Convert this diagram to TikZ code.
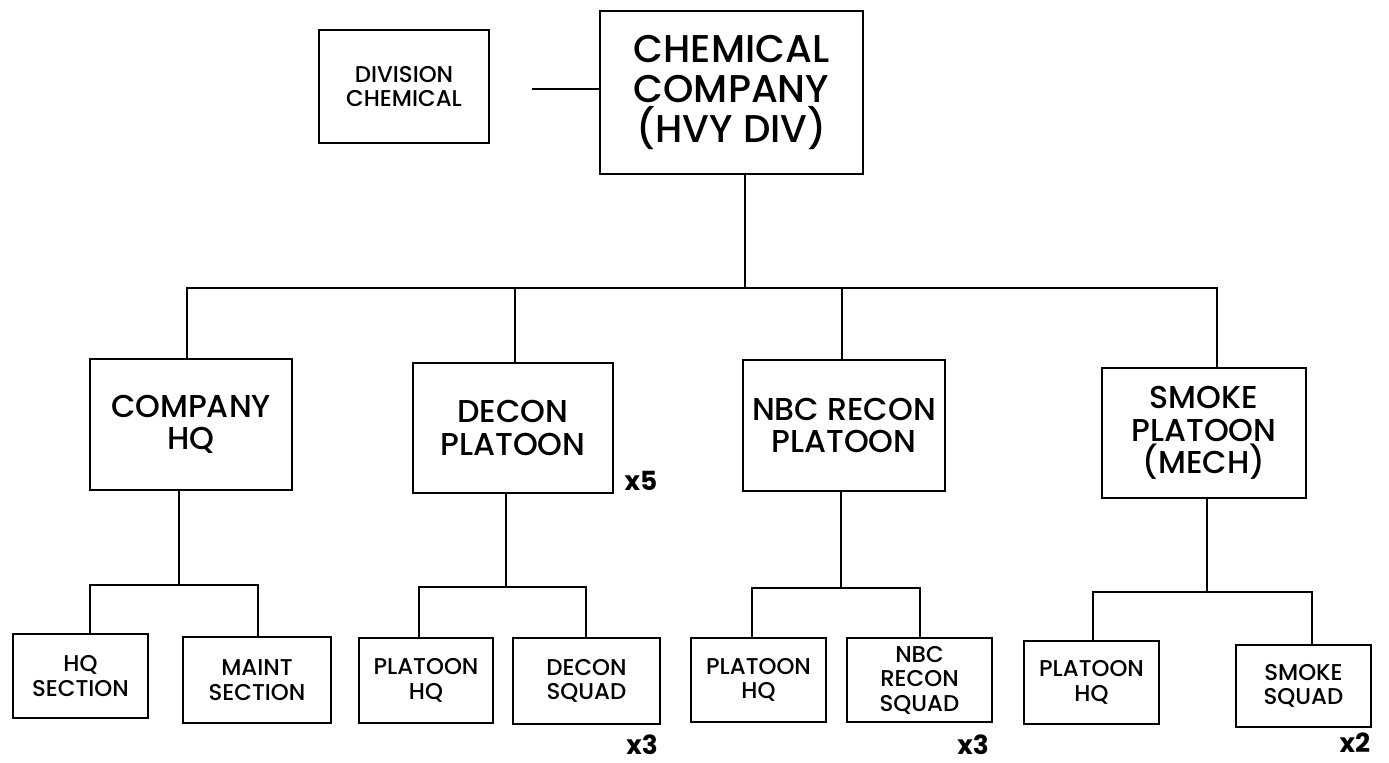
\documentclass[tikz,border=0pt]{standalone}
\usepackage{fontspec}
\setmainfont{Poppins}[UprightFont=* Medium,BoldFont=* Bold]
\begin{document}
\begin{tikzpicture}[x=0.02cm,y=-0.02cm,line width=1.1pt,box/.style={draw,align=center,inner sep=0pt},lbox/.style={box,font=\fontsize{18}{18.5}\selectfont,minimum width=4.04cm,minimum height=2.62cm},sbox/.style={box,font=\fontsize{13}{14}\selectfont,minimum width=2.7cm,minimum height=1.68cm},mult/.style={font=\bfseries\fontsize{15}{15}\selectfont}]
        \useasboundingbox (0,0) rectangle (1389,763);
        % top
        \node[box,font=\fontsize{22}{23}\selectfont,minimum width=5.26cm,minimum height=3.26cm] (chem) at (731.5,92.5) {CHEMICAL\\COMPANY\\(HVY DIV)};
        \node[sbox,minimum width=3.4cm,minimum height=2.26cm] (div) at (404,86.5) {DIVISION\\CHEMICAL};
        \coordinate (attach) at (532,89);
        \draw (attach) -- (attach -| chem.west);
        % platoons
        \node[lbox] (coHQ) at (191,424.5) {COMPANY\\HQ};
        \node[lbox,minimum width=4cm,minimum height=2.6cm] (decon) at (513,428) {DECON\\PLATOON};
        \node[lbox] (nbc) at (844,425.5) {NBC RECON\\PLATOON};
        \node[lbox,minimum width=4.08cm,minimum height=2.6cm] (smoke) at (1204,433) {SMOKE\\PLATOON\\(MECH)};
        \coordinate (top) at (745,288);
        \coordinate (b1) at (187,288);
        \coordinate (b2) at (515,288);
        \coordinate (b3) at (842,288);
        \coordinate (b4) at (1217,288);
        \draw (top |- chem.south) -- (top);
        \draw (b1 |- coHQ.north) -- (b1) -- (b4) -- (b4 |- smoke.north);
        \draw (b2) -- (b2 |- decon.north);
        \draw (b3) -- (b3 |- nbc.north);
        % sections and squads
        \node[sbox,minimum width=2.7cm,minimum height=1.68cm] (hqsec) at (80.5,676) {HQ\\SECTION};
        \node[sbox,minimum width=2.96cm,minimum height=1.72cm] (maint) at (257,680) {MAINT\\SECTION};
        \node[sbox,minimum width=2.68cm,minimum height=1.7cm] (pltHQa) at (426,680.5) {PLATOON\\HQ};
        \node[sbox,minimum width=2.94cm,minimum height=1.72cm] (deconsq) at (586.5,681) {DECON\\SQUAD};
        \node[sbox] (pltHQb) at (758.5,680) {PLATOON\\HQ};
        \node[sbox,minimum width=2.9cm] (nbcsq) at (919.5,680) {NBC\\RECON\\SQUAD};
        \node[sbox,minimum height=1.66cm] (pltHQc) at (1091.5,682.5) {PLATOON\\HQ};
        \node[sbox,minimum height=1.64cm] (smokesq) at (1303.5,686) {SMOKE\\SQUAD};
        \coordinate (s1) at (179,585);
        \coordinate (s1l) at (90,585);
        \coordinate (s1r) at (258,585);
        \coordinate (s2) at (506,587);
        \coordinate (s2l) at (419,587);
        \coordinate (s2r) at (586,587);
        \coordinate (s3) at (841,588);
        \coordinate (s3l) at (752,588);
        \coordinate (s3r) at (920,588);
        \coordinate (s4) at (1207,592);
        \coordinate (s4l) at (1093,592);
        \coordinate (s4r) at (1312,592);
        \draw (s1 |- coHQ.south) -- (s1);
        \draw (s1l |- hqsec.north) -- (s1l) -- (s1r) -- (s1r |- maint.north);
        \draw (s2 |- decon.south) -- (s2);
        \draw (s2l |- pltHQa.north) -- (s2l) -- (s2r) -- (s2r |- deconsq.north);
        \draw (s3 |- nbc.south) -- (s3);
        \draw (s3l |- pltHQb.north) -- (s3l) -- (s3r) -- (s3r |- nbcsq.north);
        \draw (s4 |- smoke.south) -- (s4);
        \draw (s4l |- pltHQc.north) -- (s4l) -- (s4r) -- (s4r |- smokesq.north);
        % multipliers
        \node[mult] (x5) at (641,481) {x5};
        \node[mult] (x3a) at (642,745) {x3};
        \node[mult] (x3b) at (973,745) {x3};
        \node[mult] (x2) at (1355,743) {x2};
      \end{tikzpicture}
\end{document}
